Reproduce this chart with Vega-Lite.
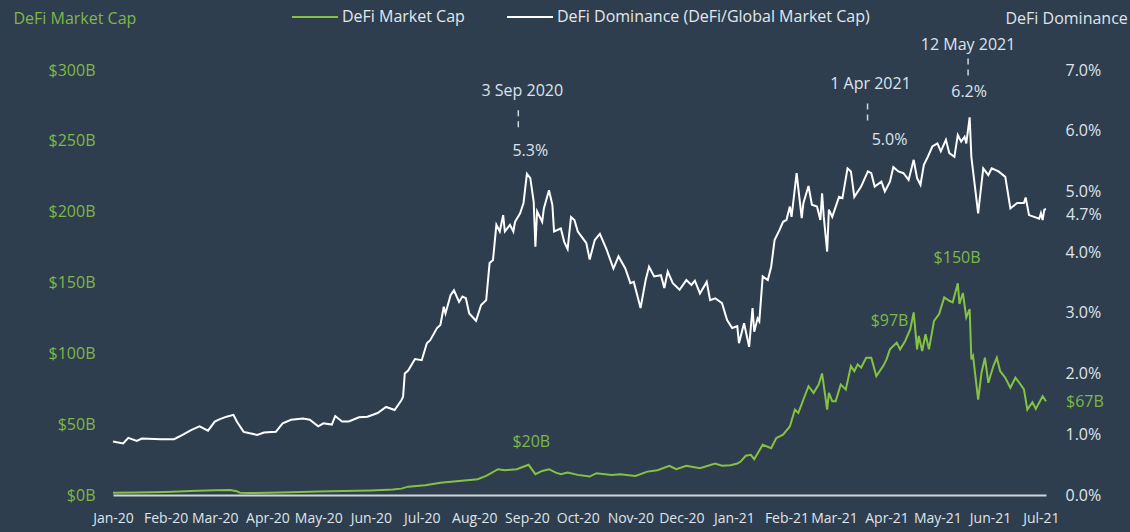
{
  "$schema": "https://vega.github.io/schema/vega-lite/v6.json",
  "width": 933,
  "height": 425,
  "autosize": {"type": "none"},
  "padding": {"left": 113, "top": 70, "right": 84, "bottom": 37},
  "background": "#2e3e4f",
  "config": {
    "view": {"stroke": null},
    "font": "Open Sans",
    "axis": {"labelFont": "Open Sans", "titleFont": "Open Sans", "labelFontSize": 16, "titleFontSize": 16, "titleFontWeight": "normal", "grid": false, "ticks": false},
    "text": {"font": "Open Sans", "fontSize": 16},
    "legend": {"labelFont": "Open Sans", "labelFontSize": 16}
  },
  "datasets": {
    "dom": [
      {"date":"2020-01-01","dom":0.88},{"date":"2020-01-07","dom":0.85},{"date":"2020-01-10","dom":0.94},{"date":"2020-01-15","dom":0.89},{"date":"2020-01-18","dom":0.93},{"date":"2020-01-29","dom":0.92},{"date":"2020-02-06","dom":0.92},{"date":"2020-02-11","dom":0.99},{"date":"2020-02-16","dom":1.07},{"date":"2020-02-21","dom":1.13},{"date":"2020-02-26","dom":1.06},{"date":"2020-03-01","dom":1.21},{"date":"2020-03-04","dom":1.25},{"date":"2020-03-08","dom":1.29},{"date":"2020-03-12","dom":1.32},{"date":"2020-03-14","dom":1.21},{"date":"2020-03-18","dom":1.04},{"date":"2020-03-21","dom":1.02},{"date":"2020-03-26","dom":0.99},{"date":"2020-03-30","dom":1.03},{"date":"2020-04-06","dom":1.04},{"date":"2020-04-10","dom":1.18},{"date":"2020-04-15","dom":1.24},{"date":"2020-04-22","dom":1.26},{"date":"2020-04-26","dom":1.24},{"date":"2020-05-01","dom":1.13},{"date":"2020-05-04","dom":1.18},{"date":"2020-05-09","dom":1.16},{"date":"2020-05-11","dom":1.30},{"date":"2020-05-15","dom":1.21},{"date":"2020-05-19","dom":1.21},{"date":"2020-05-25","dom":1.28},{"date":"2020-05-30","dom":1.29},{"date":"2020-06-05","dom":1.35},{"date":"2020-06-10","dom":1.45},{"date":"2020-06-15","dom":1.40},{"date":"2020-06-19","dom":1.56},{"date":"2020-06-20","dom":1.62},{"date":"2020-06-21","dom":2.00},{"date":"2020-06-23","dom":2.05},{"date":"2020-06-27","dom":2.24},{"date":"2020-07-01","dom":2.22},{"date":"2020-07-04","dom":2.50},{"date":"2020-07-06","dom":2.55},{"date":"2020-07-10","dom":2.75},{"date":"2020-07-12","dom":2.80},{"date":"2020-07-14","dom":3.10},{"date":"2020-07-15","dom":2.99},{"date":"2020-07-18","dom":3.29},{"date":"2020-07-20","dom":3.37},{"date":"2020-07-23","dom":3.18},{"date":"2020-07-25","dom":3.27},{"date":"2020-07-27","dom":3.24},{"date":"2020-07-29","dom":2.99},{"date":"2020-08-02","dom":2.87},{"date":"2020-08-05","dom":3.13},{"date":"2020-08-08","dom":3.21},{"date":"2020-08-10","dom":3.82},{"date":"2020-08-12","dom":3.87},{"date":"2020-08-14","dom":4.45},{"date":"2020-08-16","dom":4.34},{"date":"2020-08-18","dom":4.61},{"date":"2020-08-19","dom":4.34},{"date":"2020-08-22","dom":4.45},{"date":"2020-08-24","dom":4.34},{"date":"2020-08-25","dom":4.50},{"date":"2020-08-28","dom":4.64},{"date":"2020-08-30","dom":4.81},{"date":"2020-09-01","dom":5.29},{"date":"2020-09-03","dom":5.22},{"date":"2020-09-05","dom":4.83},{"date":"2020-09-06","dom":4.09},{"date":"2020-09-07","dom":4.67},{"date":"2020-09-10","dom":4.50},{"date":"2020-09-11","dom":4.72},{"date":"2020-09-14","dom":5.02},{"date":"2020-09-16","dom":4.78},{"date":"2020-09-17","dom":4.34},{"date":"2020-09-21","dom":4.39},{"date":"2020-09-23","dom":4.17},{"date":"2020-09-25","dom":4.05},{"date":"2020-09-27","dom":4.58},{"date":"2020-09-29","dom":4.53},{"date":"2020-10-01","dom":4.34},{"date":"2020-10-06","dom":4.15},{"date":"2020-10-08","dom":3.88},{"date":"2020-10-11","dom":4.20},{"date":"2020-10-14","dom":4.30},{"date":"2020-10-18","dom":4.04},{"date":"2020-10-22","dom":3.73},{"date":"2020-10-25","dom":3.93},{"date":"2020-10-29","dom":3.73},{"date":"2020-11-01","dom":3.49},{"date":"2020-11-03","dom":3.51},{"date":"2020-11-07","dom":3.08},{"date":"2020-11-10","dom":3.54},{"date":"2020-11-12","dom":3.76},{"date":"2020-11-15","dom":3.60},{"date":"2020-11-19","dom":3.62},{"date":"2020-11-21","dom":3.41},{"date":"2020-11-23","dom":3.68},{"date":"2020-11-26","dom":3.49},{"date":"2020-11-30","dom":3.38},{"date":"2020-12-04","dom":3.54},{"date":"2020-12-07","dom":3.46},{"date":"2020-12-09","dom":3.53},{"date":"2020-12-12","dom":3.32},{"date":"2020-12-16","dom":3.51},{"date":"2020-12-18","dom":3.21},{"date":"2020-12-21","dom":3.24},{"date":"2020-12-25","dom":3.16},{"date":"2020-12-28","dom":2.88},{"date":"2020-12-31","dom":2.75},{"date":"2021-01-03","dom":2.78},{"date":"2021-01-04","dom":2.50},{"date":"2021-01-07","dom":2.83},{"date":"2021-01-10","dom":2.44},{"date":"2021-01-12","dom":3.08},{"date":"2021-01-13","dom":2.69},{"date":"2021-01-15","dom":2.91},{"date":"2021-01-16","dom":2.86},{"date":"2021-01-18","dom":3.60},{"date":"2021-01-21","dom":3.54},{"date":"2021-01-23","dom":3.76},{"date":"2021-01-25","dom":4.20},{"date":"2021-01-28","dom":4.37},{"date":"2021-01-30","dom":4.50},{"date":"2021-02-01","dom":4.53},{"date":"2021-02-03","dom":4.75},{"date":"2021-02-04","dom":4.58},{"date":"2021-02-07","dom":5.30},{"date":"2021-02-08","dom":5.05},{"date":"2021-02-10","dom":4.56},{"date":"2021-02-11","dom":4.81},{"date":"2021-02-14","dom":5.09},{"date":"2021-02-16","dom":4.78},{"date":"2021-02-19","dom":4.75},{"date":"2021-02-21","dom":4.53},{"date":"2021-02-22","dom":4.97},{"date":"2021-02-23","dom":4.58},{"date":"2021-02-25","dom":4.01},{"date":"2021-02-26","dom":4.70},{"date":"2021-02-28","dom":4.58},{"date":"2021-03-04","dom":4.91},{"date":"2021-03-06","dom":4.89},{"date":"2021-03-09","dom":5.38},{"date":"2021-03-11","dom":5.33},{"date":"2021-03-13","dom":4.91},{"date":"2021-03-17","dom":5.08},{"date":"2021-03-21","dom":5.33},{"date":"2021-03-23","dom":5.30},{"date":"2021-03-25","dom":5.08},{"date":"2021-03-29","dom":5.16},{"date":"2021-03-31","dom":5.00},{"date":"2021-04-03","dom":5.16},{"date":"2021-04-05","dom":5.40},{"date":"2021-04-08","dom":5.33},{"date":"2021-04-11","dom":5.30},{"date":"2021-04-14","dom":5.19},{"date":"2021-04-17","dom":5.52},{"date":"2021-04-19","dom":5.22},{"date":"2021-04-21","dom":5.11},{"date":"2021-04-23","dom":5.44},{"date":"2021-04-25","dom":5.55},{"date":"2021-04-28","dom":5.74},{"date":"2021-05-01","dom":5.79},{"date":"2021-05-03","dom":5.66},{"date":"2021-05-06","dom":5.85},{"date":"2021-05-08","dom":5.63},{"date":"2021-05-11","dom":5.57},{"date":"2021-05-13","dom":5.93},{"date":"2021-05-15","dom":5.82},{"date":"2021-05-17","dom":5.90},{"date":"2021-05-18","dom":5.79},{"date":"2021-05-20","dom":6.22},{"date":"2021-05-21","dom":5.57},{"date":"2021-05-25","dom":4.64},{"date":"2021-05-28","dom":5.38},{"date":"2021-05-31","dom":5.27},{"date":"2021-06-02","dom":5.38},{"date":"2021-06-06","dom":5.33},{"date":"2021-06-10","dom":5.24},{"date":"2021-06-13","dom":4.72},{"date":"2021-06-17","dom":4.81},{"date":"2021-06-21","dom":4.81},{"date":"2021-06-22","dom":4.90},{"date":"2021-06-24","dom":4.61},{"date":"2021-06-27","dom":4.58},{"date":"2021-06-30","dom":4.55},{"date":"2021-07-01","dom":4.64},{"date":"2021-07-02","dom":4.53},{"date":"2021-07-03","dom":4.70},{"date":"2021-07-04","dom":4.71}
    ],
    "cap": [
      {"date":"2020-01-01","cap":1.6},{"date":"2020-01-15","cap":1.8},{"date":"2020-02-01","cap":2.2},{"date":"2020-02-16","cap":2.8},{"date":"2020-03-01","cap":3.3},{"date":"2020-03-10","cap":3.6},{"date":"2020-03-14","cap":2.6},{"date":"2020-03-16","cap":1.5},{"date":"2020-03-21","cap":1.4},{"date":"2020-04-01","cap":1.6},{"date":"2020-04-15","cap":2.0},{"date":"2020-05-01","cap":2.4},{"date":"2020-05-16","cap":2.8},{"date":"2020-06-01","cap":3.2},{"date":"2020-06-14","cap":3.8},{"date":"2020-06-19","cap":4.5},{"date":"2020-06-23","cap":5.9},{"date":"2020-07-03","cap":6.9},{"date":"2020-07-12","cap":8.7},{"date":"2020-07-23","cap":9.9},{"date":"2020-08-03","cap":11.1},{"date":"2020-08-08","cap":13.5},{"date":"2020-08-15","cap":18.2},{"date":"2020-08-19","cap":17.5},{"date":"2020-08-26","cap":18.2},{"date":"2020-09-02","cap":21.3},{"date":"2020-09-06","cap":14.7},{"date":"2020-09-10","cap":17.0},{"date":"2020-09-14","cap":18.2},{"date":"2020-09-18","cap":15.8},{"date":"2020-09-21","cap":14.7},{"date":"2020-09-25","cap":15.8},{"date":"2020-10-01","cap":14.2},{"date":"2020-10-08","cap":13.0},{"date":"2020-10-12","cap":15.4},{"date":"2020-10-21","cap":14.2},{"date":"2020-10-26","cap":14.7},{"date":"2020-11-04","cap":13.5},{"date":"2020-11-11","cap":16.5},{"date":"2020-11-17","cap":17.5},{"date":"2020-11-24","cap":20.6},{"date":"2020-11-28","cap":18.2},{"date":"2020-12-04","cap":20.6},{"date":"2020-12-12","cap":18.9},{"date":"2020-12-21","cap":22.2},{"date":"2020-12-25","cap":20.6},{"date":"2020-12-30","cap":21.0},{"date":"2021-01-03","cap":22.2},{"date":"2021-01-05","cap":23.6},{"date":"2021-01-08","cap":27.7},{"date":"2021-01-11","cap":28.4},{"date":"2021-01-13","cap":25.3},{"date":"2021-01-18","cap":35.5},{"date":"2021-01-23","cap":33.1},{"date":"2021-01-26","cap":40.2},{"date":"2021-01-30","cap":42.6},{"date":"2021-02-03","cap":48.4},{"date":"2021-02-06","cap":60.3},{"date":"2021-02-08","cap":57.9},{"date":"2021-02-11","cap":67.4},{"date":"2021-02-14","cap":76.8},{"date":"2021-02-17","cap":72.1},{"date":"2021-02-20","cap":78.0},{"date":"2021-02-22","cap":85.8},{"date":"2021-02-25","cap":60.3},{"date":"2021-02-26","cap":72.1},{"date":"2021-02-28","cap":66.2},{"date":"2021-03-02","cap":66.2},{"date":"2021-03-05","cap":78.0},{"date":"2021-03-08","cap":74.5},{"date":"2021-03-11","cap":91.0},{"date":"2021-03-13","cap":87.4},{"date":"2021-03-15","cap":92.2},{"date":"2021-03-17","cap":89.9},{"date":"2021-03-20","cap":96.9},{"date":"2021-03-23","cap":96.9},{"date":"2021-03-26","cap":83.9},{"date":"2021-03-30","cap":91.0},{"date":"2021-04-01","cap":95.7},{"date":"2021-04-03","cap":102.8},{"date":"2021-04-07","cap":107.6},{"date":"2021-04-09","cap":102.8},{"date":"2021-04-12","cap":108.7},{"date":"2021-04-15","cap":117.0},{"date":"2021-04-17","cap":128.9},{"date":"2021-04-19","cap":102.8},{"date":"2021-04-20","cap":112.3},{"date":"2021-04-22","cap":101.6},{"date":"2021-04-24","cap":113.5},{"date":"2021-04-26","cap":102.8},{"date":"2021-04-29","cap":122.9},{"date":"2021-05-02","cap":127.7},{"date":"2021-05-05","cap":139.5},{"date":"2021-05-08","cap":137.1},{"date":"2021-05-10","cap":136.0},{"date":"2021-05-13","cap":149.4},{"date":"2021-05-14","cap":134.8},{"date":"2021-05-16","cap":142.6},{"date":"2021-05-18","cap":125.3},{"date":"2021-05-20","cap":131.2},{"date":"2021-05-21","cap":95.7},{"date":"2021-05-22","cap":98.1},{"date":"2021-05-25","cap":67.4},{"date":"2021-05-27","cap":86.3},{"date":"2021-05-29","cap":96.9},{"date":"2021-05-31","cap":79.2},{"date":"2021-06-03","cap":91.0},{"date":"2021-06-05","cap":96.9},{"date":"2021-06-07","cap":87.4},{"date":"2021-06-10","cap":82.8},{"date":"2021-06-13","cap":75.7},{"date":"2021-06-16","cap":82.8},{"date":"2021-06-19","cap":78.0},{"date":"2021-06-21","cap":74.5},{"date":"2021-06-23","cap":60.3},{"date":"2021-06-26","cap":65.5},{"date":"2021-06-28","cap":60.8},{"date":"2021-07-02","cap":69.7},{"date":"2021-07-04","cap":66.2}
    ],
    "ann": [
      {"id":"sep","date":"2020-09-03","dom":5.3,"cap":20,"when":"3 Sep 2020","domText":"5.3%","capText":"$20B"},
      {"id":"apr","date":"2021-04-01","dom":5.0,"cap":97,"when":"1 Apr 2021","domText":"5.0%","capText":"$97B"},
      {"id":"may","date":"2021-05-12","dom":6.2,"cap":150,"when":"12 May 2021","domText":"6.2%","capText":"$150B"},
      {"id":"end","date":"2021-07-04","dom":4.7,"cap":67,"when":"","domText":"4.7%","capText":"$67B"}
    ]
  },
  "layer": [
    {
      "layer": [
        {
          "data": {"name": "cap"},
          "mark": {"type": "line", "strokeWidth": 2},
          "encoding": {
            "x": {"field": "date", "type": "temporal",
                  "scale": {"type": "utc", "domain": [{"year": 2020, "month": 1, "date": 1, "utc": true}, {"year": 2021, "month": 7, "date": 4, "utc": true}]},
                  "axis": {"title": null, "format": "%b-%y", "tickCount": {"interval": "month", "step": 1}, "labelOverlap": false, "labelFlush": false, "labelFontSize": 14, "labelColor": "#dfe4ea", "labelPadding": 16, "domainColor": "#cfd4d9", "domainWidth": 2}},
            "y": {"field": "cap", "type": "quantitative", "scale": {"domain": [0, 300]},
                  "axis": {"orient": "left", "values": [0, 50, 100, 150, 200, 250, 300], "labelExpr": "'$' + datum.value + 'B'", "labelColor": "#7db847", "labelPadding": 18, "domain": false,
                           "title": "DeFi Market Cap", "titleColor": "#7db847", "titleAngle": 0, "titleAlign": "left", "titleBaseline": "middle", "titleX": -100, "titleY": -52}},
            "color": {"datum": "DeFi Market Cap", "type": "nominal",
                      "scale": {"domain": ["DeFi Market Cap", "DeFi Dominance (DeFi/Global Market Cap)"], "range": ["#86c241", "#ffffff"]},
                      "legend": {"orient": "none", "legendX": 178, "legendY": -77, "direction": "horizontal", "title": null, "symbolType": "stroke", "symbolSize": 2116, "symbolStrokeWidth": 2, "labelColor": "#e4e8ec", "labelOffset": 3, "labelLimit": 500, "columnPadding": 38, "padding": 0}}
          }
        },
        {"data": {"name": "ann"}, "transform": [{"filter": "datum.id == 'sep'"}], "mark": {"type": "text", "color": "#7db847", "dx": 1, "dy": -25, "baseline": "middle"}, "encoding": {"x": {"field": "date", "type": "temporal"}, "y": {"field": "cap", "type": "quantitative"}, "text": {"field": "capText"}}},
        {"data": {"name": "ann"}, "transform": [{"filter": "datum.id == 'apr'"}], "mark": {"type": "text", "color": "#7db847", "dx": 3, "dy": -37, "baseline": "middle"}, "encoding": {"x": {"field": "date", "type": "temporal"}, "y": {"field": "cap", "type": "quantitative"}, "text": {"field": "capText"}}},
        {"data": {"name": "ann"}, "transform": [{"filter": "datum.id == 'may'"}], "mark": {"type": "text", "color": "#7db847", "dx": 1, "dy": -25, "baseline": "middle"}, "encoding": {"x": {"field": "date", "type": "temporal"}, "y": {"field": "cap", "type": "quantitative"}, "text": {"field": "capText"}}},
        {"data": {"name": "ann"}, "transform": [{"filter": "datum.id == 'end'"}], "mark": {"type": "text", "color": "#7db847", "align": "left", "dx": 20, "dy": 2, "baseline": "middle"}, "encoding": {"x": {"field": "date", "type": "temporal"}, "y": {"field": "cap", "type": "quantitative"}, "text": {"field": "capText"}}}
      ]
    },
    {
      "layer": [
        {
          "data": {"name": "dom"},
          "mark": {"type": "line", "strokeWidth": 2},
          "encoding": {
            "x": {"field": "date", "type": "temporal"},
            "y": {"field": "dom", "type": "quantitative", "scale": {"domain": [0, 7]},
                  "axis": {"orient": "right", "values": [0, 1, 2, 3, 4, 5, 6, 7], "labelExpr": "format(datum.value, '.1f') + '%'", "labelColor": "#dfe4ea", "labelPadding": 19, "domain": false,
                           "title": "DeFi Dominance", "titleColor": "#dfe4ea", "titleAngle": 0, "titleAlign": "left", "titleBaseline": "middle", "titleX": -41, "titleY": -52}},
            "color": {"datum": "DeFi Dominance (DeFi/Global Market Cap)", "type": "nominal"}
          }
        },
        {"data": {"name": "ann"}, "transform": [{"filter": "datum.id == 'sep'"}], "mark": {"type": "text", "color": "#dde3ea", "dx": -8, "dy": -82, "baseline": "middle"}, "encoding": {"x": {"field": "date", "type": "temporal"}, "y": {"field": "dom", "type": "quantitative"}, "text": {"field": "when"}}},
        {"data": {"name": "ann"}, "transform": [{"filter": "datum.id == 'sep'"}], "mark": {"type": "text", "color": "#dde3ea", "dx": 0, "dy": -22, "baseline": "middle"}, "encoding": {"x": {"field": "date", "type": "temporal"}, "y": {"field": "dom", "type": "quantitative"}, "text": {"field": "domText"}}},
        {"data": {"name": "ann"}, "transform": [{"filter": "datum.id == 'sep'"}], "mark": {"type": "rule", "color": "#d0d6dc", "strokeWidth": 1.5, "strokeDash": [6, 5], "xOffset": -12, "yOffset": -63, "y2Offset": -45}, "encoding": {"x": {"field": "date", "type": "temporal"}, "y": {"field": "dom", "type": "quantitative"}, "y2": {"field": "dom"}}},
        {"data": {"name": "ann"}, "transform": [{"filter": "datum.id == 'apr'"}], "mark": {"type": "text", "color": "#dde3ea", "dx": -16, "dy": -107, "baseline": "middle"}, "encoding": {"x": {"field": "date", "type": "temporal"}, "y": {"field": "dom", "type": "quantitative"}, "text": {"field": "when"}}},
        {"data": {"name": "ann"}, "transform": [{"filter": "datum.id == 'apr'"}], "mark": {"type": "text", "color": "#dde3ea", "dx": 3, "dy": -51, "baseline": "middle"}, "encoding": {"x": {"field": "date", "type": "temporal"}, "y": {"field": "dom", "type": "quantitative"}, "text": {"field": "domText"}}},
        {"data": {"name": "ann"}, "transform": [{"filter": "datum.id == 'apr'"}], "mark": {"type": "rule", "color": "#d0d6dc", "strokeWidth": 1.5, "strokeDash": [6, 5], "xOffset": -19, "yOffset": -88, "y2Offset": -69}, "encoding": {"x": {"field": "date", "type": "temporal"}, "y": {"field": "dom", "type": "quantitative"}, "y2": {"field": "dom"}}},
        {"data": {"name": "ann"}, "transform": [{"filter": "datum.id == 'may'"}], "mark": {"type": "text", "color": "#dde3ea", "dx": 12, "dy": -74, "baseline": "middle"}, "encoding": {"x": {"field": "date", "type": "temporal"}, "y": {"field": "dom", "type": "quantitative"}, "text": {"field": "when"}}},
        {"data": {"name": "ann"}, "transform": [{"filter": "datum.id == 'may'"}], "mark": {"type": "text", "color": "#dde3ea", "dx": 13, "dy": -27, "baseline": "middle"}, "encoding": {"x": {"field": "date", "type": "temporal"}, "y": {"field": "dom", "type": "quantitative"}, "text": {"field": "domText"}}},
        {"data": {"name": "ann"}, "transform": [{"filter": "datum.id == 'may'"}], "mark": {"type": "rule", "color": "#d0d6dc", "strokeWidth": 1.5, "strokeDash": [6, 5], "xOffset": 12, "yOffset": -60, "y2Offset": -42}, "encoding": {"x": {"field": "date", "type": "temporal"}, "y": {"field": "dom", "type": "quantitative"}, "y2": {"field": "dom"}}},
        {"data": {"name": "ann"}, "transform": [{"filter": "datum.id == 'end'"}], "mark": {"type": "text", "color": "#dde3ea", "align": "left", "dx": 20, "dy": 5, "baseline": "middle"}, "encoding": {"x": {"field": "date", "type": "temporal"}, "y": {"field": "dom", "type": "quantitative"}, "text": {"field": "domText"}}}
      ]
    }
  ],
  "resolve": {"scale": {"y": "independent"}}
}
